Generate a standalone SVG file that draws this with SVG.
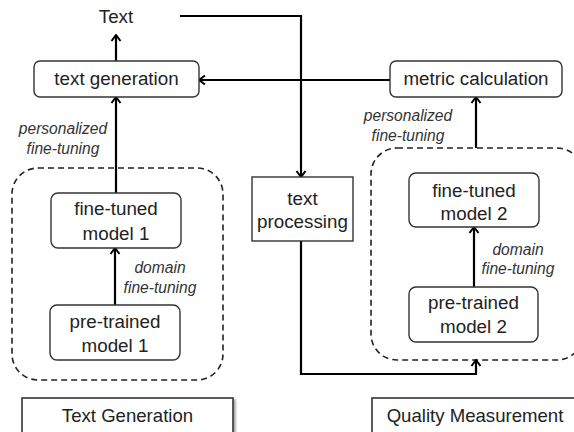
<svg xmlns="http://www.w3.org/2000/svg" width="574" height="432" viewBox="0 0 574 432">
<style>
text{font-family:"Liberation Sans",Arial,sans-serif;fill:#222;text-anchor:middle}
.n{font-size:18.8px}
.i{font-size:15.6px;font-style:italic;fill:#333}
.l{font-size:18.6px}
.box{fill:#fff;stroke:#333;stroke-width:1.4}
.dash{fill:none;stroke:#222;stroke-width:1.6;stroke-dasharray:6 4}
.c{fill:none;stroke:#000;stroke-width:2.2}
.lab{fill:#fff;stroke:#333;stroke-width:1.6}
</style>
<defs>
<marker id="a" markerUnits="userSpaceOnUse" viewBox="0 0 12 12" markerWidth="12" markerHeight="12" refX="10.5" refY="6" orient="auto">
<path d="M4.5,1.5 L10.5,6 L4.5,10.5" fill="none" stroke="#000" stroke-width="2"/>
</marker>
<filter id="sh" x="-5%" y="-20%" width="115%" height="160%">
<feDropShadow dx="2" dy="2" stdDeviation="1.2" flood-color="#000" flood-opacity="0.35"/>
</filter>
</defs>
<g id="groups">
<rect id="group-left" class="dash" x="12" y="168" width="211" height="212" rx="26"/>
<rect id="group-right" class="dash" x="371" y="148" width="212" height="212" rx="26"/>
</g>
<g id="connectors">
<line class="c" x1="116" y1="61" x2="116" y2="35" marker-end="url(#a)"/>
<line class="c" x1="116" y1="193" x2="116" y2="97" marker-end="url(#a)"/>
<line class="c" x1="115" y1="305" x2="115" y2="248" marker-end="url(#a)"/>
<polyline class="c" points="180,16 301,16 301,177" marker-end="url(#a)"/>
<line class="c" x1="390" y1="80" x2="199" y2="80" marker-end="url(#a)"/>
<line class="c" x1="476" y1="148" x2="476" y2="97" marker-end="url(#a)"/>
<line class="c" x1="474" y1="287" x2="474" y2="227" marker-end="url(#a)"/>
<polyline class="c" points="301,241 301,374 476,374 476,360" marker-end="url(#a)"/>
</g>
<g id="text-out"><text class="n" x="116" y="23">Text</text></g>
<g id="text-generation">
<rect class="box" x="34" y="61" width="165" height="36" rx="6"/>
<text class="n" x="116.5" y="85">text generation</text>
</g>
<g id="metric-calculation">
<rect class="box" x="390" y="61" width="172" height="36" rx="6"/>
<text class="n" x="476" y="85">metric calculation</text>
</g>
<g id="fine-tuned-1">
<rect class="box" x="51" y="193" width="130" height="55" rx="7"/>
<text class="n" x="116" y="215">fine-tuned</text>
<text class="n" x="116" y="240">model 1</text>
</g>
<g id="pre-trained-1">
<rect class="box" x="50" y="305" width="130" height="55" rx="7"/>
<text class="n" x="115" y="328">pre-trained</text>
<text class="n" x="115" y="352">model 1</text>
</g>
<g id="text-processing">
<rect class="box" x="252" y="177" width="101" height="64" rx="0"/>
<text class="n" x="302.5" y="205">text</text>
<text class="n" x="302.5" y="228">processing</text>
</g>
<g id="fine-tuned-2">
<rect class="box" x="409" y="173" width="130" height="54" rx="7"/>
<text class="n" x="474" y="197">fine-tuned</text>
<text class="n" x="474" y="220">model 2</text>
</g>
<g id="pre-trained-2">
<rect class="box" x="409" y="287" width="129" height="55" rx="7"/>
<text class="n" x="473.5" y="309">pre-trained</text>
<text class="n" x="473.5" y="333">model 2</text>
</g>
<g id="edge-labels">
<text class="i" x="63" y="134">personalized</text>
<text class="i" x="63" y="154">fine-tuning</text>
<text class="i" x="160" y="273">domain</text>
<text class="i" x="160" y="293">fine-tuning</text>
<text class="i" x="408" y="121">personalized</text>
<text class="i" x="408" y="141">fine-tuning</text>
<text class="i" x="518" y="255">domain</text>
<text class="i" x="518" y="274">fine-tuning</text>
</g>
<g id="label-text-generation">
<rect class="lab" filter="url(#sh)" x="22" y="398" width="211" height="40"/>
<text class="l" x="127.5" y="422">Text Generation</text>
</g>
<g id="label-quality-measurement">
<rect class="lab" filter="url(#sh)" x="372" y="398" width="210" height="40"/>
<text class="l" x="475" y="422">Quality Measurement</text>
</g>
</svg>
